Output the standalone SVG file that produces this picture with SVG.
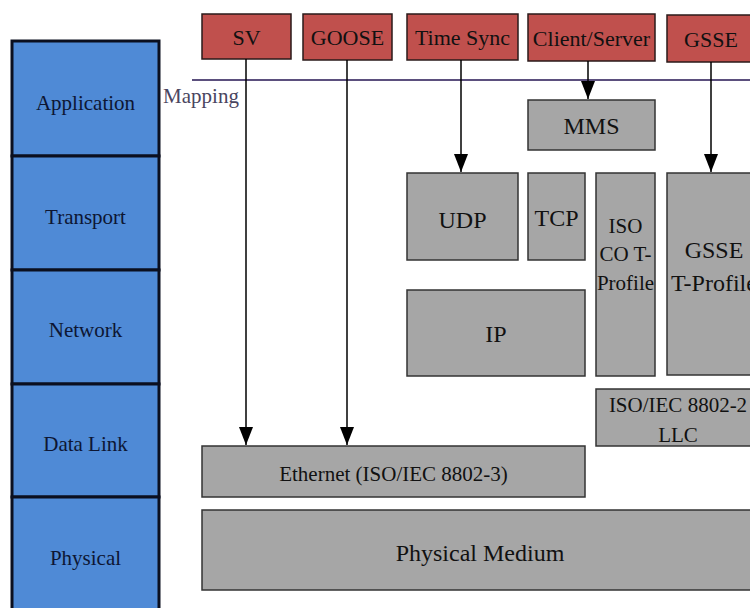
<svg xmlns="http://www.w3.org/2000/svg" width="750" height="608" viewBox="0 0 750 608">
<defs>
<marker id="ah" viewBox="0 0 18 14" refX="18" refY="7" markerWidth="18" markerHeight="14" markerUnits="userSpaceOnUse" orient="auto">
<path d="M0,0 L18,7 L0,14 Z" fill="#000"/>
</marker>
</defs>
<style>
text{text-anchor:middle;fill:#111}
.layer rect{fill:#4F8AD6;stroke:#0b0f1f;stroke-width:3}
.layer text{font-size:21px;fill:#0d1633}
.red rect{fill:#C0504D;stroke:#2a1a1a;stroke-width:1.5}
.red text{font-size:22px}
.gray rect{fill:#A6A6A6;stroke:#333;stroke-width:1.5}
.g24{font-size:24px}
.g21{font-size:21px}
.conn line{stroke:#000;stroke-width:1.5}
</style>
<g font-family="Liberation Serif, serif">
<g id="layers" class="layer">
<g id="layer-application"><rect x="12" y="41" width="147" height="115"/><text x="85.5" y="110">Application</text></g>
<g id="layer-transport"><rect x="12" y="156" width="147" height="114"/><text x="85.5" y="224">Transport</text></g>
<g id="layer-network"><rect x="12" y="270" width="147" height="114"/><text x="85.5" y="337">Network</text></g>
<g id="layer-datalink"><rect x="12" y="384" width="147" height="113"/><text x="85.5" y="451">Data Link</text></g>
<g id="layer-physical"><rect x="12" y="497" width="147" height="120"/><text x="85.5" y="565">Physical</text></g>
</g>
<g id="mapping">
<line x1="192" y1="80" x2="750" y2="80" stroke="#5b4f7d" stroke-width="2"/>
<text x="201" y="103" style="font-size:21px;fill:#4a4560">Mapping</text>
</g>
<g class="red">
<g id="sv"><rect x="202" y="14" width="89" height="45"/><text x="246.5" y="45">SV</text></g>
<g id="goose"><rect x="303" y="14" width="89" height="46"/><text x="347.5" y="45">GOOSE</text></g>
<g id="timesync"><rect x="407" y="14" width="111" height="46"/><text x="462.5" y="45">Time Sync</text></g>
<g id="clientserver"><rect x="528" y="14" width="127" height="47"/><text x="591.5" y="46">Client/Server</text></g>
<g id="gsse"><rect x="667" y="15" width="90" height="47"/><text x="711" y="47">GSSE</text></g>
</g>
<g class="gray">
<g id="mms"><rect x="528" y="100" width="127" height="50"/><text class="g24" x="591.5" y="134">MMS</text></g>
<g id="udp"><rect x="407" y="173" width="111" height="87"/><text class="g24" x="462.5" y="228">UDP</text></g>
<g id="tcp"><rect x="528" y="173" width="57" height="87"/><text class="g24" x="556.5" y="226">TCP</text></g>
<g id="isoco"><rect x="596" y="173" width="59" height="203"/><text class="g21" x="625.5" y="233">ISO</text><text class="g21" x="625.5" y="261">CO T-</text><text class="g21" x="625.5" y="290">Profile</text></g>
<g id="gsse-tprofile"><rect x="667" y="173" width="94" height="202"/><text class="g24" x="714" y="258">GSSE</text><text class="g24" x="714" y="291">T-Profile</text></g>
<g id="ip"><rect x="407" y="290" width="178" height="86"/><text class="g24" x="496" y="342">IP</text></g>
<g id="llc"><rect x="596" y="389" width="165" height="57"/><text class="g21" x="678" y="412">ISO/IEC 8802-2</text><text class="g21" x="678" y="442">LLC</text></g>
<g id="ethernet"><rect x="202" y="446" width="383" height="51"/><text class="g21" x="393.5" y="481">Ethernet (ISO/IEC 8802-3)</text></g>
<g id="physical-medium"><rect x="202" y="510" width="560" height="80"/><text class="g24" x="480" y="561">Physical Medium</text></g>
</g>
<g id="connectors" class="conn">
<line x1="246" y1="59" x2="246" y2="445" marker-end="url(#ah)"/>
<line x1="347" y1="60" x2="347" y2="445" marker-end="url(#ah)"/>
<line x1="461" y1="60" x2="461" y2="172" marker-end="url(#ah)"/>
<line x1="588" y1="61" x2="588" y2="99" marker-end="url(#ah)"/>
<line x1="711" y1="62" x2="711" y2="172" marker-end="url(#ah)"/>
</g>
</g>
</svg>
